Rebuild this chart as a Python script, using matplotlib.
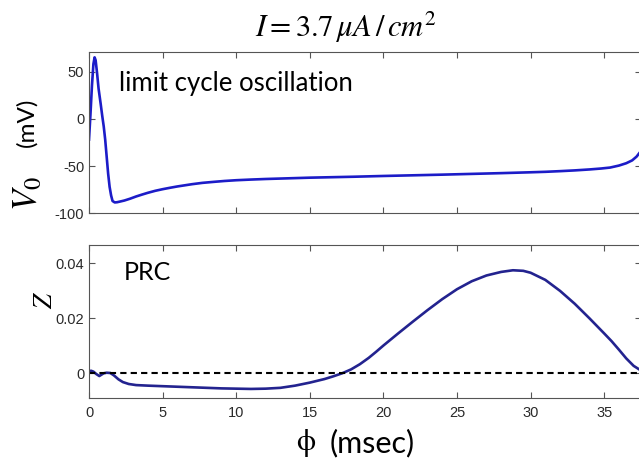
import matplotlib
matplotlib.use("Agg")
import matplotlib.pyplot as plt

# ---- data ----
t_v = [0, 0.1, 0.2, 0.3, 0.38, 0.45, 0.55, 0.65, 0.8, 0.9, 1.0, 1.1, 1.2, 1.3, 1.4,
       1.5, 1.6, 1.75, 1.9, 2.1, 2.4, 2.8, 3.2, 3.6, 4.0, 4.5, 5.0, 5.5, 6.0, 6.5,
       7.0, 7.7, 8.5, 9.2, 10, 11, 12, 13.5, 15, 16.5, 18, 20, 22, 24, 26, 28, 30,
       31, 32, 33, 34, 34.8, 35.4, 36, 36.5, 36.9, 37.2, 37.5]
v0 = [-22, 5, 35, 58, 65, 62, 48, 32, 15, 3, -8, -22, -40, -58, -72,
      -81, -87, -88.5, -88.3, -87.6, -86.5, -84.5, -82.2, -80.2, -78.3, -76.2, -74.5,
      -73, -71.6, -70.4, -69.2, -67.8, -66.7, -65.8, -65, -64.3, -63.7, -63, -62.3,
      -61.8, -61.3, -60.5, -59.8, -59.1, -58.3, -57.5, -56.6, -56.1, -55.4, -54.6,
      -53.6, -52.6, -51.6, -49.5, -47, -44, -40, -34]

t_z = [0, 0.15, 0.3, 0.5, 0.7, 0.85, 1.0, 1.2, 1.45, 1.7, 2.0, 2.3, 2.7, 3.2, 4, 5,
       6, 7.5, 9, 10, 11, 12, 13, 14, 15, 16, 16.6, 17.2, 17.8, 18.4, 19, 19.5, 20,
       21, 22, 23, 24, 25, 26, 27, 28, 28.8, 29.5, 30, 31, 32, 33, 34, 35, 35.5, 36,
       36.5, 37, 37.5]
z = [0.0008, 0.0009, 0.0006, -0.0003, -0.001, -0.0005, 0.0, 0.0002, 0.0001, -0.0008,
     -0.0022, -0.0032, -0.0039, -0.0043, -0.0045, -0.0047, -0.0049, -0.0052, -0.0055,
     -0.0056, -0.0057, -0.0056, -0.0053, -0.0045, -0.0034, -0.0021, -0.0011, 0.0,
     0.0014, 0.0033, 0.0056, 0.0078, 0.0101, 0.0145, 0.0188, 0.023, 0.027, 0.0306,
     0.0335, 0.0356, 0.0369, 0.0375, 0.0373, 0.0366, 0.0340, 0.0300, 0.0253, 0.0200,
     0.0145, 0.0117, 0.0086, 0.0054, 0.0027, 0.0010]

x_ticks = [0, 5, 10, 15, 20, 25, 30, 35]
v_ticks = [-100, -50, 0, 50]
v_ticklabels = ["-100", "-50", "0", "50"]
z_ticks = [0, 0.02, 0.04]
z_ticklabels = ["0", "0.02", "0.04"]

plt.rcParams['mathtext.fontset'] = 'stix'
W, H = 639, 463
fig = plt.figure(figsize=(W / 100, H / 100), dpi=100)

def px_axes(x0, y0, x1, y1):
    return fig.add_axes([x0 / W, 1 - y1 / H, (x1 - x0) / W, (y1 - y0) / H])

ax1 = px_axes(89, 51.7, 641, 213.3)
ax2 = px_axes(89, 245, 641, 398)

for ax in (ax1, ax2):
    for s in ax.spines.values():
        s.set_color('#555555')
        s.set_linewidth(0.8)
    ax.tick_params(direction='in', length=4, width=0.8, color='#555555',
                   top=True, right=True, labelsize=10.5, labelcolor='#2a2a2a')
    ax.set_xlim(0, 37.5)
    ax.set_xticks(x_ticks)

ax1.plot(t_v, v0, color='#1c1cc8', lw=1.9, solid_joinstyle='round')
ax1.set_ylim(-100, 71)
ax1.set_yticks(v_ticks)
ax1.set_yticklabels(v_ticklabels, family='Liberation Sans')
ax1.set_xticklabels([])

ax2.plot(t_z, z, color='#23238f', lw=1.9, solid_joinstyle='round')
ax2.axhline(0, color='black', lw=1.5, ls=(0, (3, 2)))
ax2.set_ylim(-0.009, 0.0467)
ax2.set_yticks(z_ticks)
ax2.set_yticklabels(z_ticklabels, family='Liberation Sans')
ax2.set_xticklabels([str(v) for v in x_ticks], family='Liberation Sans')
ax2.tick_params(axis='x', pad=6)

# texts
fig.text(346 / W, 1 - 27 / H, r'$I=3.7\,\mu A\,/\,cm^2$', fontsize=22,
         ha='center', va='center')
fig.text(119 / W, 1 - 84 / H, 'limit cycle oscillation', fontsize=18.5,
         family='Lato', ha='left', va='center')
fig.text(124 / W, 1 - 273 / H, 'PRC', fontsize=18, family='Lato',
         ha='left', va='center')
fig.text(27 / W, 1 - 122 / H, '(mV)', fontsize=17.5, family='Lato',
         rotation=90, ha='center', va='center')
fig.text(27 / W, 1 - 193 / H, r'$\mathbf{\mathit{V}}_{\mathit{0}}$', fontsize=25,
         rotation=90, ha='center', va='center')
fig.text(45 / W, 1 - 300 / H, r'$Z$', fontsize=19,
         rotation=90, ha='center', va='center')
fig.text(306 / W, 1 - 443 / H, r'$\mathrm{\phi}$', fontsize=22,
         ha='center', va='center')
fig.text(330 / W, 1 - 443 / H, '(msec)', fontsize=22, family='Lato',
         ha='left', va='center')

fig.savefig('out.png', dpi=100)
